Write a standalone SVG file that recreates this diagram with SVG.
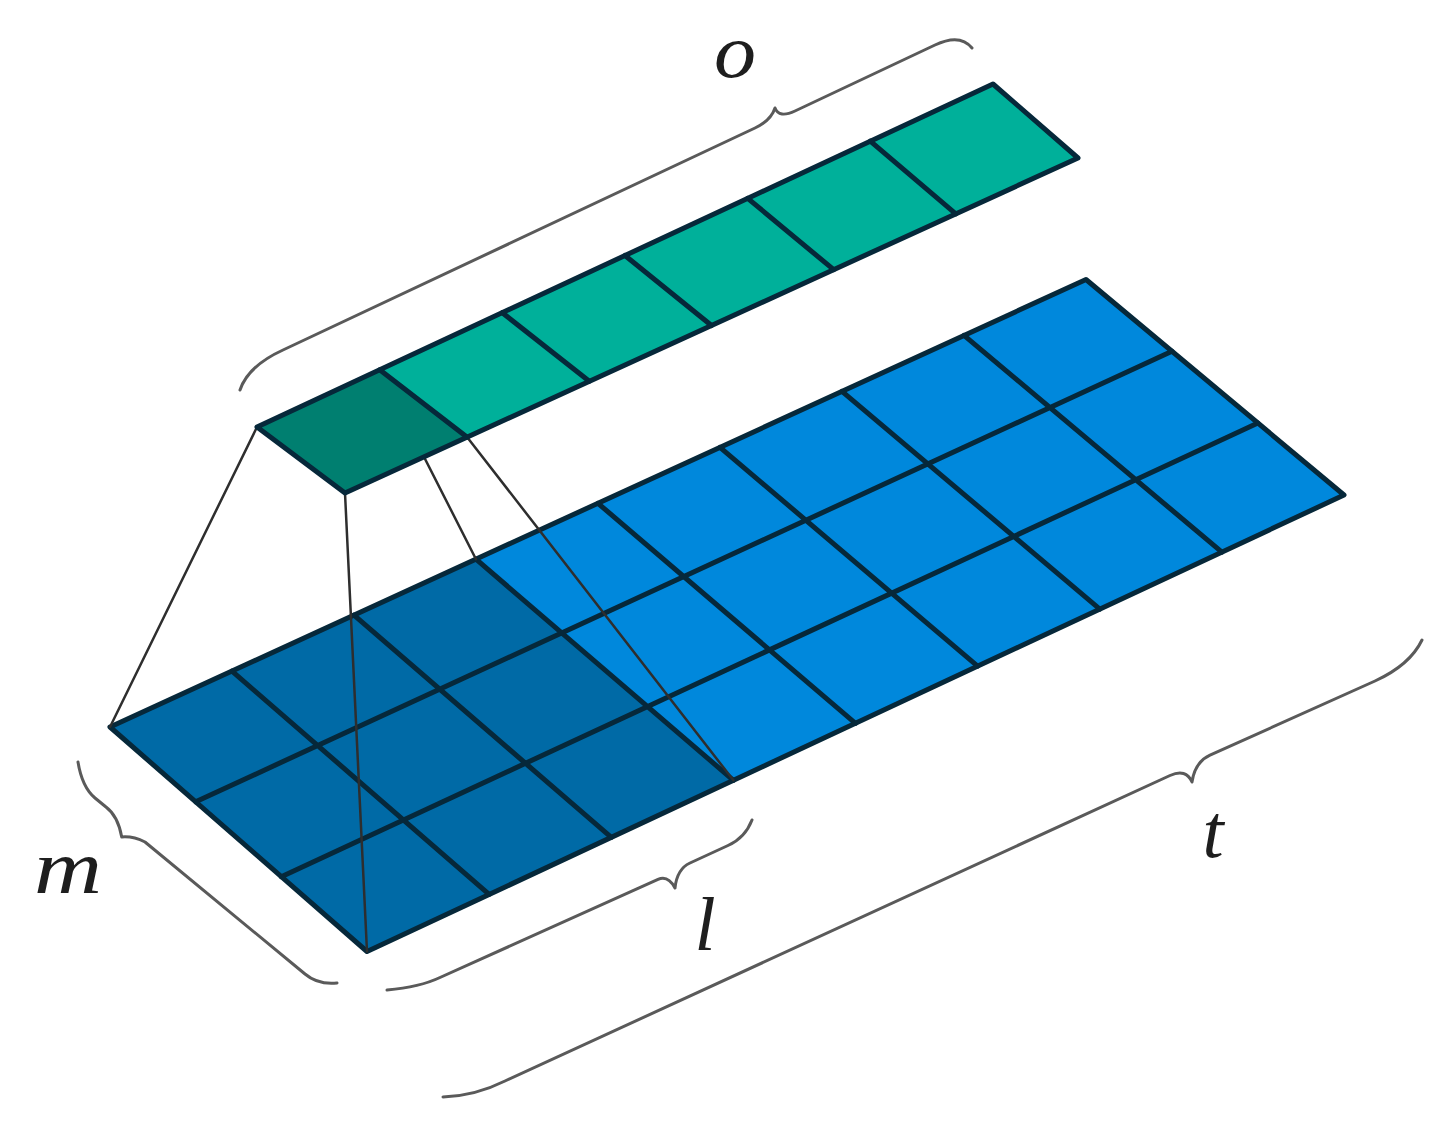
<svg xmlns="http://www.w3.org/2000/svg" width="1448" height="1135" viewBox="0 0 1448 1135">
<style>
.cell{stroke:none}
.grid{fill:none;stroke:#06283a;stroke-width:5;stroke-linejoin:round;stroke-linecap:round}
.conn{fill:none;stroke:#2e2e2e;stroke-width:2.5;stroke-linecap:round}
.brace{fill:none;stroke:#5a5a5a;stroke-width:3;stroke-linecap:round;stroke-linejoin:round}
.lbl{font-family:"Liberation Serif","Times New Roman",serif;font-style:italic;font-size:76px;fill:#1e1e1e;text-anchor:middle}
</style>
<rect width="1448" height="1135" fill="#ffffff"/>
<g id="input-grid">
<polygon class="cell" fill="#006aa6" points="110,727 476,559.2 733.4,780.3 367,951.5"/>
<polygon class="cell" fill="#0088dc" points="476,559.2 1086,279.5 1344,495 733.4,780.3"/>
<path class="grid" d="M232,671.1L489.1,894.4M354,615.1L611.3,837.4M476,559.2L733.4,780.3M598,503.3L855.5,723.3M720,447.3L977.6,666.2M842,391.4L1099.8,609.1M964,335.4L1221.9,552.1M195.7,801.8L1172,351.3M281.3,876.7L1257.9,423"/>
<polygon class="grid" points="110,727 1086,279.5 1344,495 367,951.5"/>
</g>
<g id="connectors">
<line class="conn" x1="257" y1="427" x2="110" y2="727"/>
<line class="conn" x1="345" y1="493" x2="367" y2="951.5"/>
<line class="conn" x1="379.7" y1="369.8" x2="476" y2="559.2"/>
<line class="conn" x1="467.2" y1="437.2" x2="733.4" y2="780.3"/>
</g>
<g id="output-strip">
<polygon class="cell" fill="#007f70" points="257,427 379.7,369.8 467.2,437.2 345,493"/>
<polygon class="cell" fill="#00b09a" points="379.7,369.8 993,84 1078,158 467.2,437.2"/>
<path class="grid" d="M379.7,369.8L467.2,437.2M502.3,312.7L589.3,381.3M625,255.5L711.5,325.5M747.7,198.3L833.7,269.7M870.3,141.2L955.8,213.8"/>
<polygon class="grid" points="257,427 993,84 1078,158 345,493"/>
</g>
<g id="brace-o">
<path class="brace" d="M240,390 Q248,366 283,350 L755,128 Q771,120.5 775,108 Q779,118.5 795,111 L935,45 Q960,33 972,48"/>
<text class="lbl" x="735" y="77" textLength="42" lengthAdjust="spacingAndGlyphs">o</text>
</g>
<g id="brace-m">
<path class="brace" d="M78,762 Q82,787 95,798 L106,807 Q118,816 121.7,837 Q133,836 145,842 L305,974 Q318,985 337,983"/>
<text class="lbl" x="68" y="893" textLength="68" lengthAdjust="spacingAndGlyphs">m</text>
</g>
<g id="brace-l">
<path class="brace" d="M387,990 Q420,987 440,977.5 L658,879.4 Q668,875 675,888 Q677,869 690,863 L728,845.5 Q745,838 752,820"/>
<text class="lbl" x="705" y="950">l</text>
</g>
<g id="brace-t">
<path class="brace" d="M443,1097 Q475,1096 505,1081 L1170,775.5 Q1186,768.2 1192,782 Q1195,762 1210,755.2 L1375,681 Q1410,665 1422,640"/>
<text class="lbl" x="1213" y="857">t</text>
</g>
</svg>
